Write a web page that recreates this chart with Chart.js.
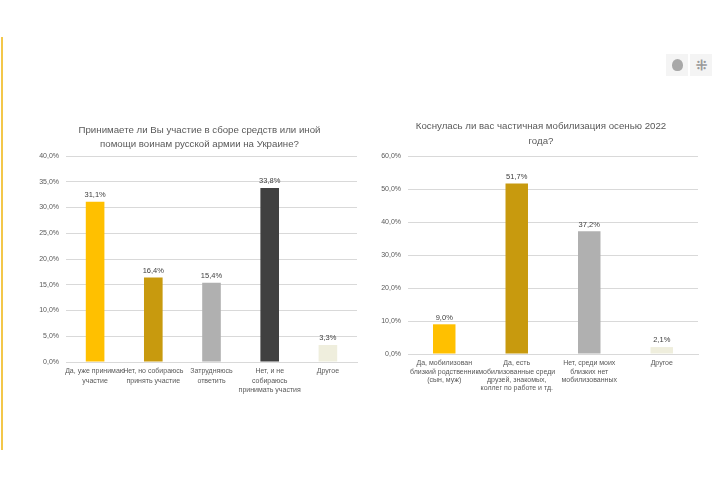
<!DOCTYPE html>
<html>
<head>
<meta charset="utf-8">
<script src="https://cdn.jsdelivr.net/npm/chart.js@4.4.1/dist/chart.umd.min.js"></script>
<style>
  body { margin: 0; background: #fff; width: 720px; height: 480px; position: relative; overflow: hidden; font-family: "Liberation Sans", Arial, sans-serif; }
  .side-line { position: absolute; left: 1px; top: 37px; width: 2px; height: 413px; background: #f3c74a; }
  .box { position: absolute; }
  .logo { position: absolute; top: 54px; width: 22px; height: 22px; background: #f4f4f4; color: #9a9a9a; text-align: center; line-height: 22px; font-size: 14px; }
</style>
</head>
<body>
<div class="side-line"></div>
<div class="logo" style="left:666px;"><span style="display:inline-block;width:11px;height:12px;border-radius:50% 50% 45% 45%;background:#a8a8a8;margin-top:5px;"></span></div>
<div class="logo" style="left:690px;font-weight:bold;">⁜</div>
<div class="box" style="left:0px; top:110px; width:362px; height:310px;"><canvas id="chartHelp"></canvas></div>
<div class="box" style="left:360px; top:110px; width:343px; height:310px;"><canvas id="chartMob"></canvas></div>
<script>
// Chart 1: участие в сборе средств
const helpTitle = ['Принимаете ли Вы участие в сборе средств или иной', 'помощи воинам русской армии на Украине?'];
const helpLabels = [
    ['Да, уже принимаю', 'участие'],
    ['Нет, но собираюсь', 'принять участие'],
    ['Затрудняюсь', 'ответить'],
    ['Нет, и не', 'собираюсь', 'принимать участия'],
    ['Другое']
];
const helpValues = [31.1, 16.4, 15.4, 33.8, 3.3];
const helpColors = ['#ffc000', '#c89a0e', '#b0b0b0', '#404040', '#efeedd'];
const helpTicks = { max: 40, step: 5 };

// Chart 2: мобилизация
const mobTitle = ['Коснулась ли вас частичная мобилизация осенью 2022', 'года?'];
const mobLabels = [
    ['Да, мобилизован', 'близкий родственник', '(сын, муж)'],
    ['Да, есть', 'мобилизованные среди', 'друзей, знакомых,', 'коллег по работе и тд.'],
    ['Нет, среди моих', 'близких нет', 'мобилизованных'],
    ['Другое']
];
const mobValues = [9.0, 51.7, 37.2, 2.1];
const mobColors = ['#ffc000', '#c89a0e', '#b0b0b0', '#efeedd'];
const mobTicks = { max: 60, step: 10 };

const textColor = '#595959';
const gridColor = '#d9d9d9';
const fontFamily = '"Liberation Sans", Arial, sans-serif';

function pct(v) {
    return v.toFixed(1).replace('.', ',') + '%';
}

// draws value labels above each bar
const valueLabels = {
    id: 'valueLabels',
    afterDatasetsDraw(chart) {
        const ctx = chart.ctx;
        const meta = chart.getDatasetMeta(0);
        ctx.save();
        ctx.font = '7.5px ' + fontFamily;
        ctx.fillStyle = '#404040';
        ctx.textAlign = 'center';
        ctx.textBaseline = 'bottom';
        meta.data.forEach((bar, i) => {
            ctx.fillText(pct(chart.data.datasets[0].data[i]), bar.x, bar.y - 3);
        });
        ctx.restore();
    }
};

// title sits a little left of the plot centre in the original, so draw it by hand
const offsetTitle = {
    id: 'offsetTitle',
    afterDraw(chart, args, opts) {
        const ctx = chart.ctx;
        const area = chart.chartArea;
        const cx = (area.left + area.right) / 2 - 12;
        ctx.save();
        ctx.font = '9.7px ' + fontFamily;
        ctx.fillStyle = textColor;
        ctx.textAlign = 'center';
        ctx.textBaseline = 'middle';
        opts.lines.forEach((line, i) => {
            ctx.fillText(line, cx, opts.top + i * opts.step);
        });
        ctx.restore();
    }
};

function makeChart(id, title, labels, values, colors, ticks, opts) {
    return new Chart(document.getElementById(id), {
        type: 'bar',
        data: {
            labels: labels,
            datasets: [{
                data: values,
                backgroundColor: colors,
                borderWidth: 0,
                barPercentage: opts.barPct,
                categoryPercentage: 1
            }]
        },
        options: {
            responsive: true,
            maintainAspectRatio: false,
            animation: false,
            layout: { padding: { left: 0, right: 5, top: 46, bottom: 0 } },
            plugins: {
                legend: { display: false },
                tooltip: { enabled: false },
                title: { display: false },
                offsetTitle: { lines: title, top: opts.titleTop, step: opts.titleStep }
            },
            scales: {
                x: {
                    grid: { display: false, drawTicks: false },
                    border: { color: gridColor },
                    ticks: {
                        color: textColor,
                        font: { family: fontFamily, size: 7, lineHeight: opts.labelLine },
                        maxRotation: 0,
                        autoSkip: false,
                        padding: opts.labelPad
                    },
                    afterFit: (s) => { s.height = opts.xHeight; }
                },
                y: {
                    min: 0,
                    max: ticks.max,
                    grid: { color: gridColor, drawTicks: false },
                    border: { display: false },
                    ticks: {
                        stepSize: ticks.step,
                        color: textColor,
                        padding: 7,
                        font: { family: fontFamily, size: 7 },
                        callback: (v) => pct(v)
                    },
                    afterFit: (s) => { s.width = opts.yWidth; }
                }
            }
        },
        plugins: [valueLabels, offsetTitle]
    });
}

makeChart('chartHelp', helpTitle, helpLabels, helpValues, helpColors, helpTicks, {
    barPct: 0.32, yWidth: 66, titleTop: 20, titleStep: 14,
    xHeight: 58, labelLine: 1.3, labelPad: 5
});
makeChart('chartMob', mobTitle, mobLabels, mobValues, mobColors, mobTicks, {
    barPct: 0.31, yWidth: 48, titleTop: 16, titleStep: 15,
    xHeight: 66, labelLine: 1.2, labelPad: 5
});
</script>
</body>
</html>
